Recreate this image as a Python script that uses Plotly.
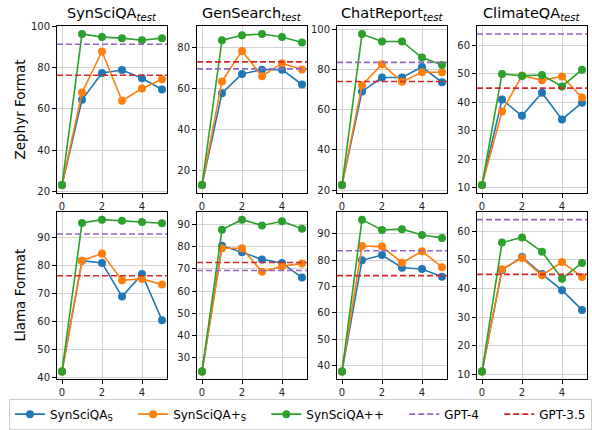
import plotly.graph_objects as go

steps = [0, 1, 2, 3, 4, 5]
datasets = ["SynSciQA", "GenSearch", "ChatReport", "ClimateQA"]
formats = ["Zephyr Format", "Llama Format"]
series_names = ["SynSciQA<sub>S</sub>", "SynSciQA+<sub>S</sub>", "SynSciQA++"]
ref_names = ["GPT-4", "GPT-3.5"]

# Zephyr format
zephyr_synsciqa_s = [[23, 64.5, 77.5, 79, 75, 69.5],
                     [13, 57.6, 66.9, 69, 69, 61.8],
                     [22.6, 69.1, 76, 76, 81.2, 73.6],
                     [11, 41, 35.3, 43.4, 34, 39.9]]
zephyr_synsciqa_plus_s = [[23, 68, 88, 64, 70, 74.5],
                          [13, 63.3, 78.1, 65.8, 72.1, 69.1],
                          [22.6, 72.2, 82.6, 73.9, 78.6, 78.6],
                          [11, 36.8, 49.4, 47.8, 49.1, 41.7]]
zephyr_synsciqa_pp = [[23, 96.5, 95, 94.5, 93.5, 94.5],
                      [13, 83.3, 85.7, 86.3, 84.9, 82.2],
                      [22.6, 97.6, 93.9, 93.9, 85.9, 82.2],
                      [11, 50, 49.3, 49.6, 45.6, 51.5]]
zephyr_gpt4 = [91.5, 69.4, 83.5, 64]
zephyr_gpt35 = [76.4, 72.8, 74, 45]

# Llama format
llama_synsciqa_s = [[42.3, 81.8, 81, 69, 77, 60.6],
                    [23.8, 80.4, 77.5, 74.3, 72.7, 66.1],
                    [37.8, 79.9, 81.9, 77.1, 76.6, 73.7],
                    [11, 46.4, 51, 45, 39.4, 32.5]]
llama_synsciqa_plus_s = [[42.3, 81.8, 84.3, 74.8, 75.3, 73.3],
                         [23.8, 79.3, 79.3, 68.7, 71.2, 72.5],
                         [37.8, 85.3, 85.1, 79, 83.3, 77.3],
                         [11, 46.7, 50.6, 44.6, 49.2, 44]]
llama_synsciqa_pp = [[42.3, 95.2, 96.4, 96.0, 95.6, 95.1],
                     [23.8, 87.7, 92.2, 89.6, 91.5, 88.1],
                     [37.8, 95.3, 91.4, 91.7, 89.5, 88.4],
                     [11, 56, 57.8, 52.8, 43.4, 48.9]]
llama_gpt4 = [91.3, 69.3, 83.5, 64]
llama_gpt35 = [76.4, 72.9, 74.1, 44.9]

rows = [
    (zephyr_synsciqa_s, zephyr_synsciqa_plus_s, zephyr_synsciqa_pp, zephyr_gpt4, zephyr_gpt35),
    (llama_synsciqa_s, llama_synsciqa_plus_s, llama_synsciqa_pp, llama_gpt4, llama_gpt35),
]
ydticks = [[20, 20, 20, 10], [10, 10, 10, 10]]

colors = ["#1f77b4", "#ff7f0e", "#2ca02c"]
c_gpt4 = "#9467bd"
c_gpt35 = "#d62728"
FONT = "DejaVu Sans"
W, H = 592, 430
PAD = "&nbsp;" * 4  # extra spacing between legend entries

col_px = [(57, 167), (197, 307), (337, 447), (477, 587)]
row_px = [(22, 192), (212, 383)]
xr = [-0.25, 5.25]

fig = go.Figure()
layout = {}
shapes = []
annotations = []
k = 0
for r, rowdata in enumerate(rows):
    s_s, s_ps, s_pp, g4, g35 = rowdata
    for c in range(4):
        k += 1
        xa = "x" if k == 1 else f"x{k}"
        ya = "y" if k == 1 else f"y{k}"
        vals = s_s[c] + s_ps[c] + s_pp[c] + [g4[c], g35[c]]
        lo, hi = min(vals), max(vals)
        m = (hi - lo) * 0.05
        for si, series in enumerate([s_s, s_ps, s_pp]):
            fig.add_trace(go.Scatter(
                x=steps, y=series[c], mode="lines+markers",
                line=dict(color=colors[si], width=1.6),
                marker=dict(color=colors[si], size=8),
                name=series_names[si] + PAD, showlegend=(k == 1),
                xaxis=xa, yaxis=ya))
        for val, colr in [(g4[c], c_gpt4), (g35[c], c_gpt35)]:
            shapes.append(dict(type="line", xref=f"{xa} domain", yref=ya,
                               x0=0, x1=1, y0=val, y1=val,
                               line=dict(color=colr, width=1.6, dash="6px,3px"),
                               layer="above"))
        x0, x1 = col_px[c]
        y0, y1 = row_px[r]
        axcommon = dict(showline=True, linecolor="black", linewidth=1, mirror=True,
                        ticks="outside", ticklen=4, tickcolor="black",
                        showgrid=True, gridcolor="#d3d3d3", gridwidth=1.3,
                        zeroline=False, tickfont=dict(family=FONT, size=10, color="#222"))
        layout["xaxis" if k == 1 else f"xaxis{k}"] = dict(
            domain=[x0 / W, x1 / W], anchor=ya, range=xr,
            tickvals=[0, 2, 4], **axcommon)
        layout["yaxis" if k == 1 else f"yaxis{k}"] = dict(
            domain=[1 - y1 / H, 1 - y0 / H], anchor=xa, range=[lo - m, hi + m],
            dtick=ydticks[r][c], **axcommon)
        if r == 0:
            annotations.append(dict(
                text=f"{datasets[c]}<sub><i>test</i></sub>", xref="paper", yref="paper",
                x=(x0 + x1) / 2 / W, y=1 - 20 / H, xanchor="center", yanchor="bottom",
                showarrow=False, font=dict(family=FONT, size=14.5, color="black")))
    annotations.append(dict(
        text=formats[r], xref="paper", yref="paper", textangle=-90,
        x=20 / W, y=1 - (row_px[r][0] + row_px[r][1]) / 2 / H,
        xanchor="center", yanchor="middle", showarrow=False,
        font=dict(family=FONT, size=13.5, color="black")))

for nm, colr in zip(ref_names, [c_gpt4, c_gpt35]):
    fig.add_trace(go.Scatter(x=[None], y=[None], mode="lines",
                             name=nm + (PAD if nm != ref_names[-1] else ""),
                             line=dict(color=colr, width=1.6, dash="6px,3px")))

fig.update_layout(
    **layout,
    shapes=shapes, annotations=annotations,
    width=W, height=H, autosize=False,
    margin=dict(l=0, r=0, t=0, b=0),
    paper_bgcolor="white", plot_bgcolor="white",
    font=dict(family=FONT, color="black"),
    legend=dict(orientation="h", x=12 / W, y=1 - 403 / H, xanchor="left", yanchor="top",
                bordercolor="#cccccc", borderwidth=1, font=dict(family=FONT, size=12),
                entrywidth=0, itemwidth=30, tracegroupgap=0),
)
fig.write_html("out.html", config={"displayModeBar": False},
               post_script="document.body.style.margin='0px';document.body.style.overflow='hidden';")
